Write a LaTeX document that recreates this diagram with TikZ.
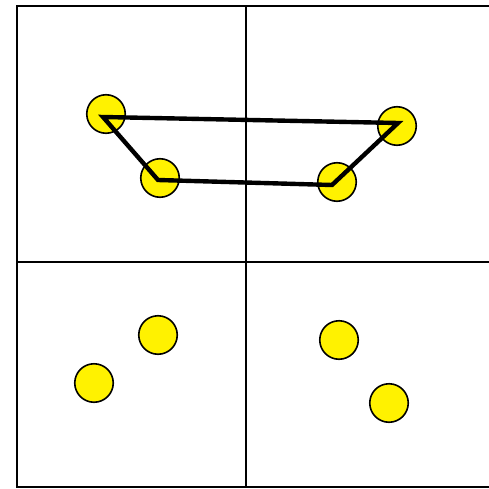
\documentclass[tikz,border=0pt]{standalone}
\usepackage{tikz}

\begin{document}
\begin{tikzpicture}[
    x=1pt, y=-1pt,
    grid/.style={draw=black, line width=2pt},
    dot/.style={circle, draw=black, line width=1.6pt, fill=yellow, minimum size=38.5pt, inner sep=0pt},
    link/.style={draw=black, line width=4.4pt}
]
\useasboundingbox (0,0) rectangle (489,489);
\fill[white] (0,0) rectangle (489,489);

% quadrants
\draw[grid] (489,6) -- (17,6) -- (17,487) -- (489,487);
\draw[grid] (246,6) -- (246,487);
\draw[grid] (17,262) -- (489,262);

% top half
\node[dot] (tl) at (106,114) {};
\node[dot] (bl) at (160,178) {};
\node[dot] (br) at (337,182) {};
\node[dot] (tr) at (397,126) {};

% bottom half
\node[dot] (a) at (158,335) {};
\node[dot] (b) at (94,383) {};
\node[dot] (c) at (339,340) {};
\node[dot] (d) at (389,403) {};

\draw[link] ([shift={(-3,3)}]tl.center) -- ([shift={(1,-3)}]tr.center)
    -- ([shift={(-5,3)}]br.center) -- ([shift={(-2,2)}]bl.center) -- cycle;
\end{tikzpicture}
\end{document}
